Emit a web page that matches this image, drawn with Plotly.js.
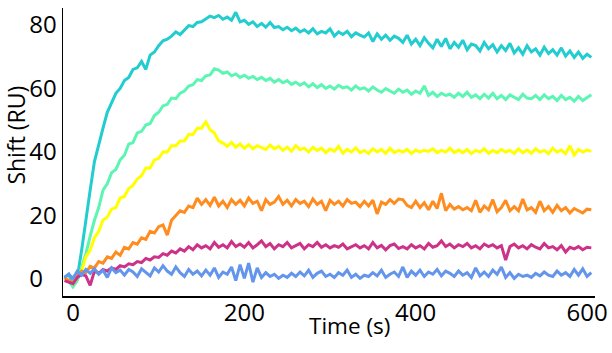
<!DOCTYPE html>
<html>
<head>
<meta charset="utf-8">
<script src="https://cdn.plot.ly/plotly-3.0.1.min.js"></script>
<style>html,body{margin:0;padding:0;background:#fff;}#chart{width:612px;height:353px;}</style>
</head>
<body>
<div id="chart"></div>
<script>
const time = [-10,-5,0,5,10,15,20,25,30,35,40,45,50,55,60,65,70,75,80,85,90,95,100,105,110,115,120,125,130,135,140,145,150,155,160,165,170,175,180,185,190,195,200,205,210,215,220,225,230,235,240,245,250,255,260,265,270,275,280,285,290,295,300,305,310,315,320,325,330,335,340,345,350,355,360,365,370,375,380,385,390,395,400,405,410,415,420,425,430,435,440,445,450,455,460,465,470,475,480,485,490,495,500,505,510,515,520,525,530,535,540,545,550,555,560,565,570,575,580,585,590,595,600,605];

const cyanSeries = [0.5,1.5,-2.0,0.5,9,19,28,37,42.5,47.5,52.5,55.5,58.5,60,62.5,63.5,66,66.5,68.5,66,70.5,71.5,73.5,75,75.5,76.5,77.8,77,78.5,79.8,79.5,80.8,81,81.8,82.8,82.3,83,81.8,82.5,81.5,84,81,81.5,80.2,81,79.5,80.5,79.3,80.8,79.2,79.5,78.5,79.3,78.2,79,77.8,78.5,77.5,78.8,77.2,78,77.5,78.8,76.5,77.8,77,78,76.3,77.5,76.8,76.2,77.5,74.8,77.2,75.5,76.8,75.2,76.5,75.8,74.5,76.8,74,75.5,73.5,76,74.2,72.8,75.5,73.2,75.8,72.5,74.5,73,75.2,72.2,74,73.5,71.8,74.5,72.5,73.8,71.5,73.5,72,74.2,71.2,72.8,70.8,73.5,71.5,72.5,70.5,73,71,72.2,70.5,72.8,70.2,71.8,69.8,71.5,69.5,70.8,69.8];

const aquaSeries = [0.5,-0.8,-2.5,-0.5,3.5,8,13.5,18.5,22.5,28,30,33.5,34.5,37.5,39,42.5,43,46,46.5,48.5,49,51.5,52.5,54.5,55,57,56.8,58.5,59.2,60.8,61.2,62.8,62.5,64,64.3,66.2,65.8,64.8,65.2,64,64.6,63.5,64.2,63.2,63.8,62.8,63.5,62.5,63.2,62,62.8,61.8,62.5,61.3,62,61,61.8,60.5,61.5,60.3,61.2,60,60.8,59.8,61,60.2,60.5,59.5,60.8,59.8,60.2,59.2,60.5,59.5,58.8,60,59.2,58.5,59.8,58.8,59.5,58.2,59.2,58.5,60.8,57.8,58.8,57.5,58.5,57.8,58.2,57.2,58.5,57.5,58.8,57.2,58,56.8,58.2,57,58.5,56.8,57.8,56.5,58,57.2,56.5,58.2,57,56.8,57.8,56.5,58,56.8,57.5,56.2,57.8,56.5,57.2,56,57.5,56.2,57.2,58];

const yellowSeries = [0.3,-0.8,-1.5,0.5,2.5,7,9,13,15,18.5,19.5,22,22.5,25.5,26,28.5,29.5,31.5,32.5,35,35,37.5,38,40,40,42,42,43.5,43.5,45.5,45.5,47.5,47.5,49.5,47,46,43.5,42.8,41.8,43,41.5,42.5,41.2,42.3,41,42,41.5,40.8,42.2,41,41.8,40.5,41.5,40.2,42,40.8,41.2,40,41.5,40.5,41.2,39.8,41,40.2,41.8,39.6,40.8,40,41.3,39.8,40.5,39.5,41,40,40.8,39.6,41.2,39.8,40.5,40,40.8,39.5,40.6,40,40.5,40.2,41,39.8,40.5,40,41.2,39.8,40.6,39.8,40.8,39.5,40.5,40,41,39.6,40.5,39.8,40.8,40,40.5,39.5,41,39.8,40.6,39.6,41,40,40.5,39.5,41.2,40,40.6,39.5,42,39,40.8,40,40.6,40.2];

const orangeSeries = [0.5,-0.5,-1.2,1,2.5,2,4,3.5,5.5,5,7,6.5,8.5,7.5,10,9.5,11.5,11,13,12.5,15,14.5,16.5,17,13.8,18.5,20,21.5,21,23,22.5,25.5,23.5,25,23.2,25.8,23,24.5,22.5,25,23.5,24.8,23,25.5,23.8,24.5,21.5,25,23.5,24.2,26,23.5,24.8,23,25,23.8,24.5,22.8,25.2,23.5,24.5,21.5,24.8,23.5,24.5,23,25,23.8,24.2,22.8,24.5,23,24.8,20.5,24.2,23.5,25,23.8,25.2,25,23.2,22.5,24.5,22.5,24,21.8,24.5,22.2,27,21.5,23.5,22,22.8,21.8,22.5,21.5,24.8,21,23,21.8,25,21.2,22.5,24.8,21.5,22.8,21.5,25.2,21.8,22.5,21,24.5,21.5,22.8,21,23.2,21.5,22.5,20.8,22.2,21.5,20.8,22,21.8];

const magentaSeries = [-0.5,-1,-1.5,0.5,1.5,1,-2,2.5,1.8,3,2.5,3.5,3,4.2,3.8,4.8,4.5,5.5,5.2,6.5,6,7,6.8,8,7.5,8.8,8.2,9.5,8.8,10.2,9.2,10.8,9.8,10.5,9.5,11.5,10,10.8,9.8,11.8,10.2,11,10,11.5,9.8,10.8,12,10.2,11.2,9.5,10.8,10.2,11.5,9.8,10.5,11.2,9.5,10.8,10.2,11.5,10,10.8,9.8,10.5,10,11,9.5,10.2,10.8,9.8,10.5,9.5,11.5,9.8,10.6,9.2,10.5,11,9.6,10.2,9.5,10.8,9.8,10.5,9.5,11.2,10,10.5,12,10.2,11,9.8,10.8,10.2,11.2,9.8,10.5,9.5,11,10.2,10.8,9.8,10.5,6,10.2,11,9.8,10.5,9.5,10.8,10,9.5,11.2,9.8,10.2,9.2,10.5,8.5,10,9.5,10.2,9.2,10,9.8];

const blueSeries = [0.5,1.5,0.2,2.5,1.2,3,1.8,3.2,1.5,2.8,0.5,3.5,2,2.8,1.2,3,2.2,0.8,3.2,2,1,3.5,2.2,4.2,2.5,1.5,3.8,2,0.8,3,1.5,2.5,1,2.8,1.2,3.5,0.5,2.2,1.5,3.8,-0.5,4.5,0.2,5,-1,3.5,0.5,2,0.8,1.5,0.2,1.2,0.5,1.8,0.8,2.2,1,2.8,0.5,1.8,2.5,0.8,1.5,0.5,2,1.2,2.8,0.5,1.5,0.2,1.2,0.8,2,1,2.8,0.5,1.5,2.2,0.8,3.8,0.5,2.5,1.2,2.8,0.8,2.2,1.5,3,1,2.5,1.8,0.8,2.5,1.2,2,0.5,3.5,1,2.2,0.8,2.8,1.5,3.8,0.5,2,0.2,1.5,0.8,1.2,0.5,1.8,1,2.2,1.2,0.8,2.5,1.2,2,0.8,3,1.2,3.2,0.8,2];

const seriesList = [cyanSeries, aquaSeries, yellowSeries, orangeSeries, magentaSeries, blueSeries];
const colors = ['#22cccf', '#5cf5b3', '#ffff00', '#ff8c1f', '#cc3388', '#6495ed'];

const xTickVals = [0, 200, 400, 600];
const xTickText = ['0', '200', '400', '600'];
const yTickVals = [0, 20, 40, 60, 80];
const yTickText = ['0\u2007', '20', '40', '60', '80'];

const traces = seriesList.map((s, k) => ({
  x: time, y: s, type: 'scatter', mode: 'lines',
  line: {color: colors[k], width: 3},
  hoverinfo: 'skip', showlegend: false
}));

const fam = 'Open Sans, sans-serif';
const tickFont = {family: fam, size: 24, color: '#000'};

const layout = {
  width: 612, height: 353,
  margin: {l: 63, r: 17, t: 8, b: 57},
  paper_bgcolor: '#fff', plot_bgcolor: '#fff',
  showlegend: false,
  xaxis: {
    range: [-11.7, 609.3], tickvals: xTickVals, ticktext: xTickText, ticks: '', showgrid: false, zeroline: false,
    showline: true, linecolor: '#000', linewidth: 1.5, tickfont: tickFont, ticklabelstandoff: -5
  },
  yaxis: {
    range: [-5.35, 85.35], tickvals: yTickVals, ticktext: yTickText, ticks: '', showgrid: false, zeroline: false,
    showline: true, linecolor: '#000', linewidth: 1.5, tickfont: tickFont, ticklabelstandoff: 0
  },
  annotations: [
    {text: 'Time (s)', xref: 'paper', yref: 'paper', x: 0.5376, y: -0.1007, xanchor: 'center', yanchor: 'middle', showarrow: false, font: {family: fam, size: 22.5, color: '#000'}},
    {text: 'Shift (RU)', xref: 'paper', yref: 'paper', x: -0.0883, y: 0.557, xanchor: 'center', yanchor: 'middle', textangle: -90, showarrow: false, font: {family: fam, size: 23, color: '#000'}}
  ]
};

Plotly.newPlot('chart', traces, layout, {displayModeBar: false, staticPlot: true});
</script>
</body>
</html>
